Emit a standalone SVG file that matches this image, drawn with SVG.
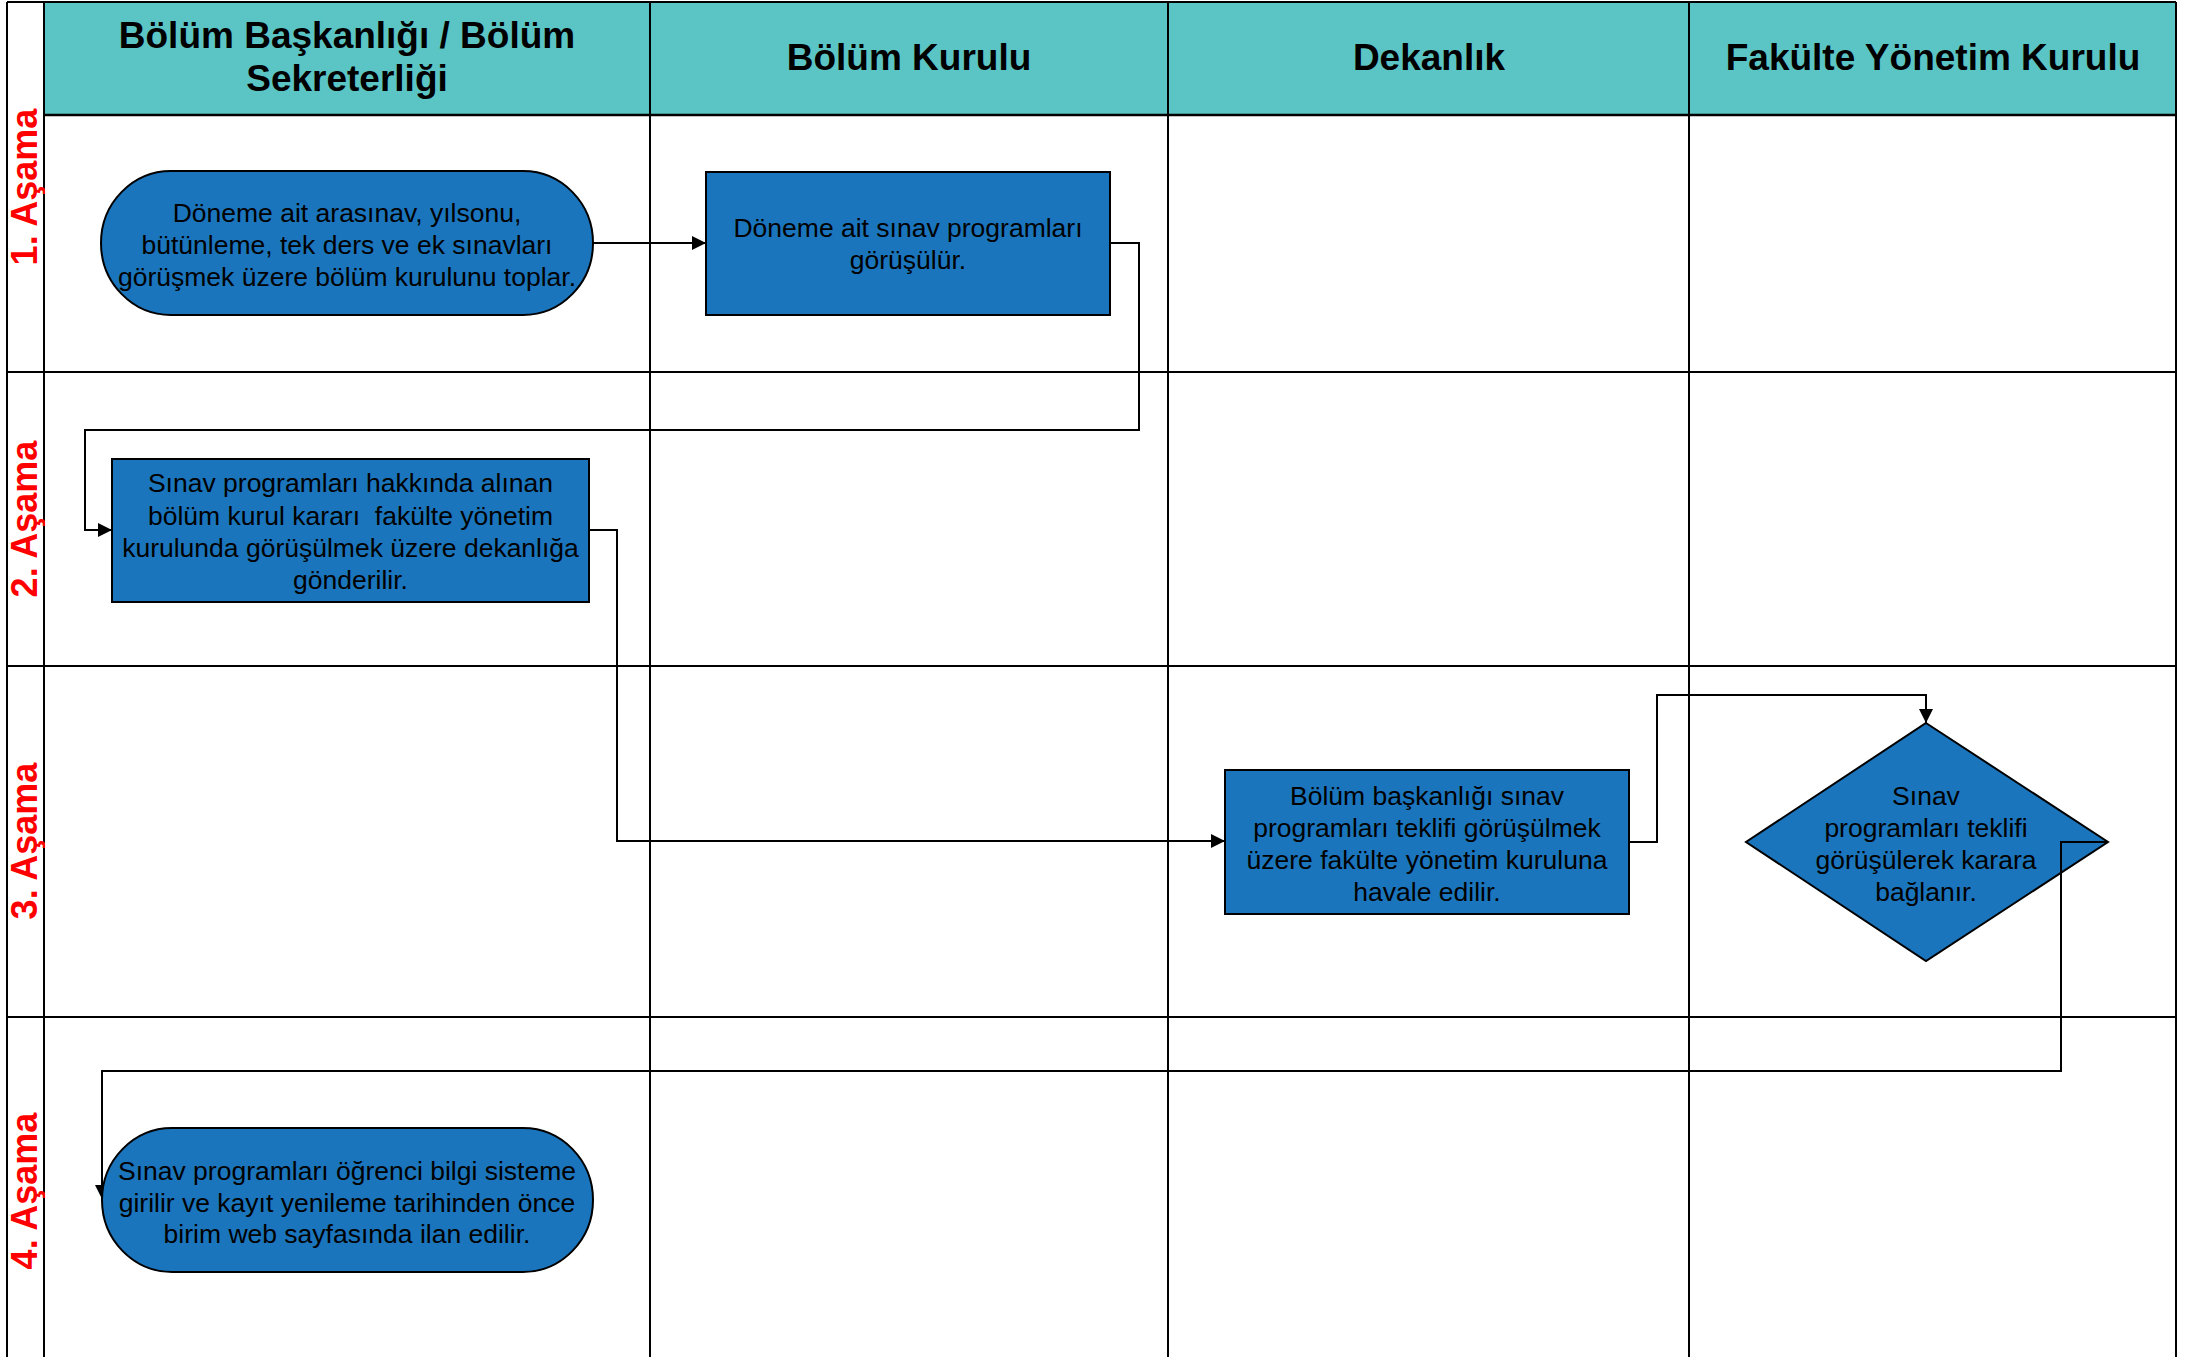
<svg xmlns="http://www.w3.org/2000/svg" width="2193" height="1357" viewBox="0 0 2193 1357">
<style>
.grid{stroke:#000;stroke-width:2;fill:none}
.hdr{font-family:"Liberation Sans",Arial,sans-serif;font-weight:bold;font-size:37px;fill:#000;text-anchor:middle}
.stage{font-family:"Liberation Sans",Arial,sans-serif;font-weight:bold;font-size:36px;fill:#ff0000;text-anchor:middle}
.node{fill:#1b75bc;stroke:#000;stroke-width:2}
.txt{font-family:"Liberation Sans",Arial,sans-serif;font-size:26.5px;fill:#000;text-anchor:middle}
.conn{stroke:#000;stroke-width:2;fill:none;marker-end:url(#arr)}
</style>
<defs>
<marker id="arr" markerUnits="userSpaceOnUse" markerWidth="14" markerHeight="14" refX="14" refY="7" orient="auto">
<path d="M0,0 L14,7 L0,14 z" fill="#000"/>
</marker>
</defs>
<rect x="0" y="0" width="2193" height="1357" fill="#fff"/>
<g id="lanes">
<rect x="44" y="2" width="2132" height="113" fill="#5bc5c5"/>
<path class="grid" d="M7,2 H2176 M7,2 V1357 M2176,2 V1357 M44,2 V1357 M650,2 V1357 M1168,2 V1357 M1689,2 V1357 M7,372 H2176 M7,666 H2176 M7,1017 H2176"/>
<path d="M44,115 H2176" stroke="#000" stroke-width="2.5"/>
<text class="hdr" x="347" y="48">Bölüm Başkanlığı / Bölüm</text>
<text class="hdr" x="347" y="91">Sekreterliği</text>
<text class="hdr" x="909" y="70">Bölüm Kurulu</text>
<text class="hdr" x="1429" y="70">Dekanlık</text>
<text class="hdr" x="1933" y="70">Fakülte Yönetim Kurulu</text>
<text class="stage" transform="translate(37,187) rotate(-90)">1. Aşama</text>
<text class="stage" transform="translate(37,519) rotate(-90)">2. Aşama</text>
<text class="stage" transform="translate(37,841) rotate(-90)">3. Aşama</text>
<text class="stage" transform="translate(37,1191) rotate(-90)">4. Aşama</text>
</g>
<g id="n1">
<rect class="node" x="101" y="171" width="492" height="144" rx="70" ry="72"/>
<text class="txt" x="347" y="222">Döneme ait arasınav, yılsonu,</text>
<text class="txt" x="347" y="254">bütünleme, tek ders ve ek sınavları</text>
<text class="txt" x="347" y="286">görüşmek üzere bölüm kurulunu toplar.</text>
</g>
<g id="n2">
<rect class="node" x="706" y="172" width="404" height="143"/>
<text class="txt" x="908" y="237">Döneme ait sınav programları</text>
<text class="txt" x="908" y="269">görüşülür.</text>
</g>
<g id="n3">
<rect class="node" x="112" y="459" width="477" height="143"/>
<text class="txt" x="350.5" y="492">Sınav programları hakkında alınan</text>
<text class="txt" x="350.5" y="524.5" xml:space="preserve">bölüm kurul kararı  fakülte yönetim</text>
<text class="txt" x="350.5" y="557">kurulunda görüşülmek üzere dekanlığa</text>
<text class="txt" x="350.5" y="589">gönderilir.</text>
</g>
<g id="n4">
<rect class="node" x="1225" y="770" width="404" height="144"/>
<text class="txt" x="1427" y="805">Bölüm başkanlığı sınav</text>
<text class="txt" x="1427" y="837">programları teklifi görüşülmek</text>
<text class="txt" x="1427" y="869">üzere fakülte yönetim kuruluna</text>
<text class="txt" x="1427" y="901">havale edilir.</text>
</g>
<g id="d1">
<polygon class="node" points="1926,723 2108,842 1926,961 1746,842"/>
<text class="txt" x="1926" y="805">Sınav</text>
<text class="txt" x="1926" y="837">programları teklifi</text>
<text class="txt" x="1926" y="869">görüşülerek karara</text>
<text class="txt" x="1926" y="901">bağlanır.</text>
</g>
<g id="connectors">
<path class="conn" d="M593,243 H706"/>
<path class="conn" d="M1110,243 H1139 V430 H85 V530 H112"/>
<path class="conn" d="M589,530 H617 V841 H1225"/>
<path class="conn" d="M1629,842 H1657 V695 H1926 V723"/>
<path class="conn" d="M2108,842 H2061 V1071 H102 V1199"/>
</g>
<g id="n5">
<rect class="node" x="102" y="1128" width="491" height="144" rx="70" ry="72"/>
<text class="txt" x="347" y="1180">Sınav programları öğrenci bilgi sisteme</text>
<text class="txt" x="347" y="1211.5">girilir ve kayıt yenileme tarihinden önce</text>
<text class="txt" x="347" y="1243">birim web sayfasında ilan edilir.</text>
</g>
</svg>
